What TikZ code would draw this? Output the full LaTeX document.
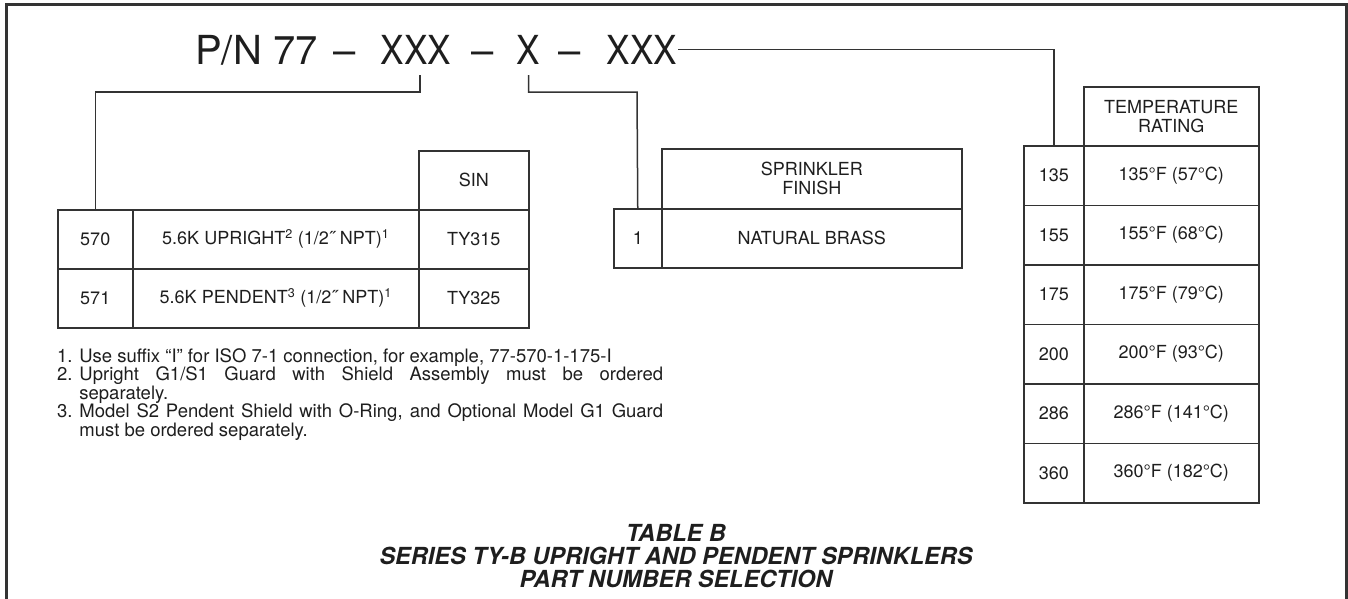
\documentclass[tikz,border=0pt]{standalone}
\usepackage{fontspec}
\setmainfont{TeX Gyre Heros}
\usetikzlibrary{calc}
\definecolor{ink}{HTML}{1E1E1E}
\definecolor{rulec}{HTML}{333333}
\newcommand{\ttlfont}{\fontsize{40}{40}\selectfont}
\newcommand{\tblfont}{\fontsize{18}{19}\selectfont}
\newcommand{\notefont}{\fontsize{18.5}{18.5}\selectfont}
\newcommand{\capfont}{\fontsize{23.5}{23.5}\selectfont\bfseries\itshape}
\newcommand{\narrowx}[1]{\scalebox{0.88}[1]{#1}}
\newcommand{\noteitem}[2]{\noindent\hangindent=1.2em\hangafter=1 \makebox[1.2em][l]{#1}#2\par}
\tikzset{
  frameline/.style={draw=rulec, line width=3pt, line join=miter},
  conn/.style={draw=rulec, line width=1.5pt},
  cell/.style={draw=rulec, line width=1.5pt, rectangle, anchor=north west, inner sep=0pt,
               align=center, font=\tblfont, text=ink},
  ttl/.style={anchor=base, inner sep=0pt, font=\ttlfont, text=ink},
  capline/.style={anchor=base, inner sep=0pt, font=\capfont, text=ink},
  notes/.style={anchor=north west, inner sep=0pt, text width=606pt, align=justify,
                font=\notefont, text=ink}
}
\begin{document}
\begin{tikzpicture}[x=1pt,y=-1pt]
\useasboundingbox (0,0) rectangle (1348,598);
% frame (open at bottom)
\draw[frameline] (6,620) -- (6,4) -- (1346,4) -- (1346,620);

% title
\node[ttl, anchor=base west] (pn) at (195,64) {P/N 77};
\node[ttl] (d1) at (345,64) {–};
\node[ttl] (xa) at (416,64) {\narrowx{XXX}};
\node[ttl] (d2) at (483,64) {–};
\node[ttl] (xb) at (528.5,64) {\narrowx{X}};
\node[ttl] (d3) at (570,64) {–};
\node[ttl] (xc) at (642,64) {\narrowx{XXX}};

% left table
\node[cell, minimum width=110pt, minimum height=59pt] (lsin) at (418,150) {SIN};
\node[cell, minimum width=75pt,  minimum height=59pt] (l570c) at (57,209) {570};
\node[cell, minimum width=286pt, minimum height=59pt] (l570d) at (132,209) {5.6K UPRIGHT\textsuperscript{2} (1/2˝ NPT)\textsuperscript{1}};
\node[cell, minimum width=110pt, minimum height=59pt] (l570s) at (418,209) {TY315};
\node[cell, minimum width=75pt,  minimum height=59pt] (l571c) at (57,268) {571};
\node[cell, minimum width=286pt, minimum height=59pt] (l571d) at (132,268) {5.6K PENDENT\textsuperscript{3} (1/2˝ NPT)\textsuperscript{1}};
\node[cell, minimum width=110pt, minimum height=59pt] (l571s) at (418,268) {TY325};

% middle table
\node[cell, minimum width=300pt, minimum height=60pt] (mhead) at (661,148) {SPRINKLER\\FINISH};
\node[cell, minimum width=48pt,  minimum height=59pt] (m1c) at (613,208) {1};
\node[cell, minimum width=300pt, minimum height=59pt] (m1d) at (661,208) {NATURAL BRASS};

% right table
\node[cell, minimum width=175pt, minimum height=59pt] (rhead) at (1083,86) {TEMPERATURE\\RATING};
\foreach \i/\c/\t in {0/135/{135°F (57°C)},1/155/{155°F (68°C)},2/175/{175°F (79°C)},3/200/{200°F (93°C)},4/286/{286°F (141°C)},5/360/{360°F (182°C)}}{
  \node[cell, minimum width=60pt,  minimum height=59.5pt] (r\i c) at (1023,145+59.5*\i) {\c};
  \node[cell, minimum width=175pt, minimum height=59.5pt] (r\i d) at (1083,145+59.5*\i) {\t};
}

% connectors
\coordinate (ja) at (420,92);
\coordinate (jb) at (637,92);
\draw[conn] ($(xa.south -| ja)+(0,11)$) -- (ja) -| (l570c.north);
\draw[conn] ($(xb.south)+(0,11)$) |- (jb) -- (m1c.north);
\draw[conn] ([xshift=1pt]xc.east) -| (r0c.north);

% notes
\node[notes] (notes) at (57,348) {%
\noteitem{1.}{Use suffix “I” for ISO 7-1 connection, for example, 77-570-1-175-I}%
\noteitem{2.}{Upright G1/S1 Guard with Shield Assembly must be ordered\linebreak separately.}%
\noteitem{3.}{Model S2 Pendent Shield with O-Ring, and Optional Model G1 Guard\linebreak must be ordered separately.}};

% caption
\node[capline] (cap1) at (676,541) {TABLE B};
\node[capline] (cap2) at (676,564) {SERIES TY-B UPRIGHT AND PENDENT SPRINKLERS};
\node[capline] (cap3) at (676,587) {PART NUMBER SELECTION};
\end{tikzpicture}
\end{document}
